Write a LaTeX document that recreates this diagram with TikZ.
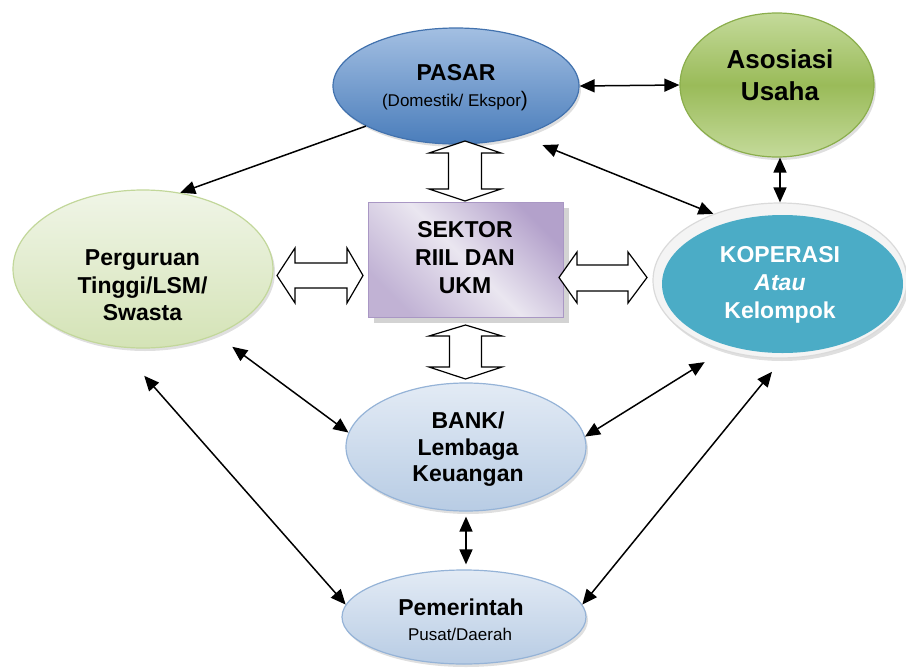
\documentclass[tikz,border=0pt]{standalone}
\usepackage{fontspec}
\setmainfont{Liberation Sans}
\usetikzlibrary{shapes.geometric,arrows.meta,shadows}

\definecolor{pasarTop}{HTML}{A3BFE2}
\definecolor{pasarBot}{HTML}{4A7DBB}
\definecolor{pasarLine}{HTML}{4272AE}
\definecolor{asosMid}{HTML}{9ABB59}
\definecolor{asosEdge}{HTML}{C4DA9A}
\definecolor{asosLine}{HTML}{8BAE4C}
\definecolor{pergTop}{HTML}{F0F5E7}
\definecolor{pergBot}{HTML}{D4E3B6}
\definecolor{pergLine}{HTML}{C2D79A}
\definecolor{sekDark}{HTML}{B3A1CB}
\definecolor{sekLight}{HTML}{EAE6F0}
\definecolor{sekLine}{HTML}{A997C4}
\definecolor{kopRing}{HTML}{F4F4F4}
\definecolor{kopRingLine}{HTML}{DADADA}
\definecolor{kopFill}{HTML}{4BACC6}
\definecolor{bankTop}{HTML}{E3EBF5}
\definecolor{bankBot}{HTML}{B8CCE4}
\definecolor{bankLine}{HTML}{95B3D7}

\begin{document}
\begin{tikzpicture}[x=1pt,y=-1pt,
  oval/.style={ellipse, inner sep=0pt, line width=1.2pt},
  soft/.style={drop shadow={opacity=0.25, shadow xshift=2pt, shadow yshift=-3pt}},
  label/.style={align=center, font=\bfseries\fontsize{23}{28}\selectfont},
  small/.style={font=\fontsize{17}{20}\selectfont},
  tip/.style={-{Triangle[length=15pt,width=13pt]}, line width=1.5pt},
  both/.style={{Triangle[length=15pt,width=13pt]}-{Triangle[length=15pt,width=13pt]}, line width=1.5pt},
  blockarrow/.style={draw=black, fill=white, line width=1.2pt, line join=miter}]

\useasboundingbox (0,0) rectangle (906,670);

% --- shapes ---
\node[oval, minimum width=246pt, minimum height=116pt, draw=pasarLine,
      top color=pasarTop, bottom color=pasarBot, soft] (pasar) at (456,86) {};
\node[oval, minimum width=194pt, minimum height=144pt, draw=asosLine,
      top color=asosEdge, bottom color=asosEdge, middle color=asosMid, soft] (asos) at (777,85) {};
\node[oval, minimum width=260pt, minimum height=158pt, draw=pergLine,
      top color=pergTop, bottom color=pergBot, soft] (perg) at (143,269) {};
\node[rectangle, minimum width=195pt, minimum height=115pt, draw=sekLine, line width=1pt,
      top color=sekDark, bottom color=sekDark!75!sekLight, middle color=sekLight,
      shading angle=-45,
      drop shadow={opacity=0.35, shadow xshift=5pt, shadow yshift=-5pt}] (sektor) at (466,260) {};
\node[oval, minimum width=254pt, minimum height=155pt, draw=kopRingLine,
      fill=kopRing, soft] (kop) at (780,280.5) {};
\node[oval, minimum width=241pt, minimum height=138pt, fill=kopFill, line width=0pt] (kopin) at (782.5,284) {};
\node[oval, minimum width=240pt, minimum height=128pt, draw=bankLine,
      top color=bankTop, bottom color=bankBot, soft] (bank) at (466,447) {};
\node[oval, minimum width=244pt, minimum height=94pt, draw=bankLine,
      top color=bankTop, bottom color=bankBot, soft] (pem) at (464,617) {};

% --- texts ---
\node[label] (pasar-t) at (456,73) {PASAR};
\node[small] (pasar-s) at (455,101) {(Domestik/ Ekspor{\fontsize{21}{21}\selectfont)}};
\node[label, font=\bfseries\fontsize{26}{32}\selectfont] (asos-t) at (780,75) {Asosiasi\\Usaha};
\node[label] (sektor-t) at (465,257.5) {SEKTOR\\RIIL DAN\\UKM};
\node[label, font=\bfseries\fontsize{23}{27.5}\selectfont] (perg-t) at (142.5,285.5) {Perguruan\\Tinggi/LSM/\\Swasta};
\node[label, text=white] (kop-t) at (780,285) {KOPERASI\\\textit{Atau}\\Kelompok};
\node[label, font=\bfseries\fontsize{23}{26.5}\selectfont] (bank-t) at (468,449.5) {BANK/\\Lembaga\\Keuangan};
\node[label] (pem-t) at (461,607.5) {Pemerintah};
\node[small] (pem-s) at (460,634) {Pusat/Daerah};

% --- block arrows ---
\draw[blockarrow] (465,141) -- (501,153) -- (481.5,153) -- (481.5,189) -- (501,189)
  -- (465,201) -- (429,189) -- (448.5,189) -- (448.5,153) -- (429,153) -- cycle;
\draw[blockarrow] (465.5,325) -- (502,336) -- (481.5,336) -- (481.5,367) -- (502,367)
  -- (465.5,379) -- (429,367) -- (449.5,367) -- (449.5,336) -- (429,336) -- cycle;
\draw[blockarrow] (277,275.5) -- (295,248) -- (295,263) -- (347,263) -- (347,248)
  -- (363,275.5) -- (347,303) -- (347,288) -- (295,288) -- (295,303) -- cycle;
\draw[blockarrow] (559,277.5) -- (577,252) -- (577,265) -- (628,265) -- (628,252)
  -- (647,277.5) -- (628,303) -- (628,291) -- (577,291) -- (577,303) -- cycle;

% --- connectors ---
\draw[tip] (pasar.204) -- (perg.64);
\draw[both] (pasar.east) -- (asos.west);
\draw[both, shorten <=24pt] (pasar.322) -- (kop.135);
\draw[both] (kop.north) -- (kop.north |- asos.south);
\draw[both, shorten <=20pt] (perg.318) -- (bank.173);
\draw[both, shorten <=38pt] (perg.253.6) -- (pem.174);
\draw[both, shorten <=22pt] (kop.231) -- (bank.5);
\draw[both, shorten <=17pt] (kop.272.8) -- (pem.6);
\draw[both, shorten <=5pt, shorten >=5pt] (bank.south) -- (bank.south |- pem.north);

\end{tikzpicture}
\end{document}
